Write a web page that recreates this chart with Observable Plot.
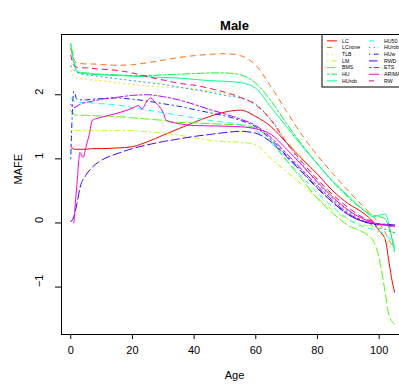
<!DOCTYPE html>
<html><head><meta charset="utf-8">
<script src="https://cdn.jsdelivr.net/npm/d3@7"></script>
<script src="https://cdn.jsdelivr.net/npm/@observablehq/plot@0.6"></script>
<style>
html,body{margin:0;padding:0;background:#fff;overflow:hidden}
#chart{width:399px;height:385px;overflow:hidden}
#chart svg{max-width:none !important}
</style></head><body><div id="chart"></div>
<script>
const ages = [0,1,2,3,5,7,10,15,20,25,30,35,40,45,50,55,60,65,70,75,80,85,90,95,98,100,102,103,104,105];
const LC     = [1.20,1.15,1.15,1.15,1.15,1.16,1.16,1.17,1.19,1.27,1.37,1.47,1.57,1.66,1.73,1.76,1.66,1.50,1.25,1.00,0.76,0.50,0.30,0.15,0.02,-0.12,-0.26,-0.55,-0.85,-1.08];
const LCnone = [2.72,2.55,2.50,2.49,2.48,2.48,2.47,2.46,2.47,2.50,2.54,2.58,2.61,2.63,2.64,2.61,2.46,2.12,1.74,1.37,1.05,0.77,0.50,0.25,0.10,0.00,-0.15,-0.25,-0.33,-0.40];
const TLB    = [2.38,2.28,2.26,2.25,2.24,2.23,2.22,2.19,2.16,2.14,2.12,2.11,2.09,2.06,2.02,1.96,1.86,1.62,1.30,0.98,0.68,0.42,0.20,0.03,-0.08,-0.15,-0.25,-0.32,-0.40,-0.45];
const LM     = [1.45,1.44,1.44,1.44,1.44,1.44,1.44,1.44,1.44,1.42,1.40,1.37,1.33,1.29,1.27,1.26,1.22,1.00,0.80,0.60,0.39,0.20,0.05,-0.03,-0.06,-0.08,-0.10,-0.12,-0.14,-0.15];
const BMS    = [1.75,1.70,1.68,1.68,1.68,1.67,1.67,1.66,1.64,1.62,1.60,1.57,1.56,1.55,1.54,1.53,1.48,1.28,0.97,0.68,0.38,0.15,-0.04,-0.15,-0.27,-0.55,-1.10,-1.40,-1.52,-1.58];
const HU     = [2.80,2.55,2.37,2.35,2.34,2.33,2.32,2.31,2.30,2.30,2.31,2.32,2.33,2.34,2.34,2.31,2.18,1.90,1.55,1.22,0.92,0.64,0.40,0.20,0.12,0.10,0.06,-0.05,-0.20,-0.38];
const HUrob  = [2.78,2.50,2.36,2.34,2.33,2.32,2.31,2.30,2.29,2.28,2.27,2.26,2.24,2.22,2.21,2.19,2.10,1.80,1.50,1.20,0.92,0.65,0.42,0.20,0.10,0.12,0.14,0.02,-0.22,-0.45];
const HU50   = [1.95,1.90,1.88,1.88,1.88,1.87,1.86,1.84,1.80,1.76,1.72,1.68,1.64,1.60,1.57,1.53,1.44,1.24,0.98,0.72,0.47,0.25,0.06,-0.06,-0.10,-0.13,-0.18,-0.22,-0.30,-0.40];
const HUrob2 = [2.45,2.38,2.35,2.33,2.31,2.30,2.28,2.25,2.22,2.19,2.16,2.12,2.08,2.04,1.99,1.95,1.85,1.60,1.25,0.92,0.62,0.38,0.18,0.03,-0.04,-0.08,-0.10,-0.12,-0.14,-0.15];
const HUw    = [1.00,2.05,1.93,1.92,1.92,1.93,1.94,1.95,1.93,1.90,1.86,1.82,1.77,1.72,1.67,1.60,1.50,1.30,1.05,0.80,0.55,0.32,0.13,0.02,-0.02,-0.03,-0.02,-0.02,-0.03,-0.03];
const RWD    = [0.02,0.10,0.30,0.55,0.75,0.87,0.98,1.08,1.16,1.22,1.27,1.31,1.35,1.38,1.41,1.43,1.40,1.26,1.03,0.79,0.54,0.32,0.13,0.02,-0.01,-0.02,-0.02,-0.02,-0.03,-0.03];
const ETS    = [1.85,1.80,1.82,1.85,1.88,1.90,1.93,1.96,1.99,2.00,1.97,1.92,1.85,1.77,1.70,1.62,1.52,1.33,1.08,0.83,0.58,0.35,0.15,0.03,0.00,-0.02,-0.03,-0.03,-0.04,-0.05];
const RW     = [2.62,2.46,2.43,2.42,2.42,2.41,2.40,2.38,2.34,2.28,2.23,2.18,2.15,2.10,2.04,1.96,1.84,1.60,1.25,0.95,0.68,0.44,0.24,0.08,0.02,-0.02,-0.03,-0.04,-0.05,-0.05];
const agesARIMA = [1,2,3,4,5,6,7,10,15,20,22,23,25,26,27,30,31,35,40,50,55,60,65,70,75,80,85,90,95,100,105];
const ARIMA  = [0.00,0.60,1.10,1.02,1.20,1.38,1.60,1.65,1.71,1.79,1.83,1.78,1.92,1.95,1.90,1.72,1.60,1.55,1.52,1.51,1.50,1.47,1.38,1.15,0.90,0.64,0.40,0.20,0.06,-0.02,-0.05];

const seriesLabels = ["LC","LCnone","TLB","LM","BMS","HU","HUrob","HU50","HUrob","HUw","RWD","ETS","ARIMA","RW"];
const seriesValues = [LC,LCnone,TLB,LM,BMS,HU,HUrob,HU50,HUrob2,HUw,RWD,ETS,ARIMA,RW];
const seriesColors = ["#FF0000","#FF6D00","#FFDB00","#B6FF00","#49FF00","#00FF24","#00FF92","#00FFFF","#0092FF","#0024FF","#4900FF","#B600FF","#FF00DB","#FF006D"];
const ltyDash = ["none","5,5","1.2,3.6","1.2,3.6,4.8,3.6","8.4,3.6","2.4,2.4,7.2,2.4"];
const xTicks = [0,20,40,60,80,100];
const yTicks = [-1,0,1,2];

const series = seriesValues.map((vals, i) => {
  const a = vals === ARIMA ? agesARIMA : ages;
  return vals.map((v, j) => ({age: a[j], value: v, s: i}));
});

const font = "Liberation Sans, Arial, Helvetica, sans-serif";
const marks = [];
series.forEach((rows, i) => {
  marks.push(Plot.line(rows, {x: "age", y: "value", stroke: seriesColors[i], strokeWidth: 1,
    strokeDasharray: ltyDash[i % 6], curve: "monotone-x"}));
});
marks.push(Plot.frame({stroke: "black"}));
marks.push(Plot.axisX({ticks: xTicks, tickSize: 5, tickPadding: 7, fontSize: 11, label: null, stroke: "black"}));
marks.push(Plot.axisY({ticks: yTicks, tickSize: 6, tickFormat: () => "", label: null}));
marks.push(Plot.text(yTicks, {y: d => d, text: d => String(d).replace("-", "\u2212"), frameAnchor: "left", rotate: -90, dx: -22, fontSize: 11, fill: "black"}));
marks.push(Plot.text(["Male"], {text: d => d, frameAnchor: "top", dy: -14, fontSize: 13, fontWeight: "bold", fill: "black"}));
marks.push(Plot.text(["Age"], {text: d => d, frameAnchor: "bottom", dy: 44, fontSize: 11, fill: "black"}));
marks.push(Plot.text(["MAFE"], {text: d => d, frameAnchor: "left", dx: -43, rotate: -90, fontSize: 11, fill: "black"}));

const svg = Plot.plot({
  width: 408, height: 385,
  marginLeft: 61, marginRight: 1, marginTop: 34, marginBottom: 51,
  x: {domain: [-3, 109.2]},
  y: {domain: [-1.74, 2.94]},
  style: {fontFamily: font, background: "white", color: "black", maxWidth: "none"},
  marks
});
svg.style.maxWidth = "none";

// legend (topright of plot region)
const lg = d3.select(svg).append("g").attr("transform", "translate(322,34.5)")
  .attr("text-anchor", "start");
lg.append("rect").attr("x", 0).attr("y", 0).attr("width", 85).attr("height", 52.5)
  .attr("fill", "white").attr("stroke", "black").attr("stroke-width", 1);
seriesLabels.forEach((lab, i) => {
  const col = Math.floor(i / 7), row = i % 7;
  const y = 6.4 + row * 6.67;
  const x0 = col === 0 ? 5 : 47;
  lg.append("line").attr("x1", x0).attr("x2", x0 + 10).attr("y1", y).attr("y2", y)
    .attr("stroke", seriesColors[i]).attr("stroke-width", 1)
    .attr("stroke-dasharray", ltyDash[i % 6] === "none" ? null : ltyDash[i % 6]);
  lg.append("text").attr("x", x0 + 15).attr("y", y).attr("dy", "0.35em")
    .attr("text-anchor", "start")
    .attr("font-size", 5.2).attr("font-family", font).attr("fill", "black").text(lab);
});

document.getElementById("chart").appendChild(svg);
</script></body></html>
